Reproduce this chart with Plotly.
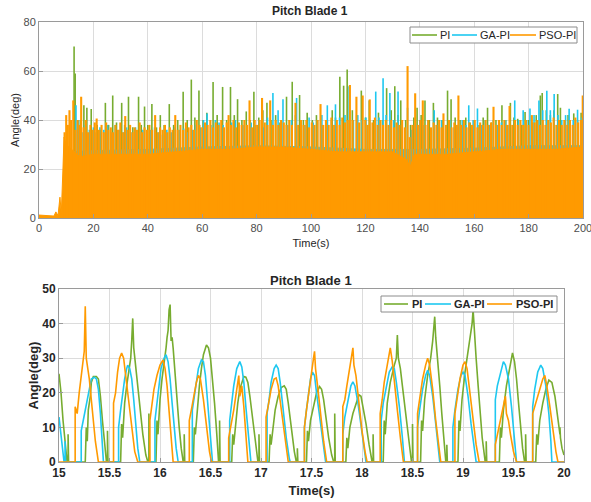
import plotly.graph_objects as go

# ---------------- colours ----------------
C_PI = "#77AC30"
C_GA = "#1EC8F0"
C_PSO = "#FF9A00"

# ---------------- top chart (0-200 s) ----------------
# spike peaks (time s, angle deg)
pi_spk_t = [12.9, 13.3, 15.2, 16.5, 17.6, 19.2, 21.4, 22.5, 24.4, 25.6, 27.1, 28.5, 30.4, 31.5, 32.9, 34.5, 36.6, 37.6,
            38.8, 40.0, 41.5, 43.2, 44.6, 46.0, 47.9, 49.5, 51.0, 53.0, 54.5, 56.0, 57.3, 58.8, 60.3, 61.7, 64.0, 65.5,
            67.5, 69.0, 70.4, 71.8, 73.0, 74.6, 76.2, 77.6, 79.0, 80.8, 82.3, 83.8, 85.3, 87.0, 88.6, 91.0, 93.1, 94.3,
            95.8, 97.2, 98.6, 100.5, 102.0, 104.0, 106.0, 107.8, 109.0, 110.6, 112.0, 113.3, 115.2, 116.8, 118.5, 120.0,
            121.4, 123.0, 124.8, 126.3, 127.8, 129.5, 130.8, 132.0, 133.0, 134.8, 136.6, 137.8, 139.0, 140.5, 141.9,
            143.5, 145.0, 146.5, 148.2, 150.2, 151.5, 153.0, 154.8, 156.9, 158.5, 160.0, 161.8, 163.3, 164.9, 166.4,
            168.0, 170.2, 171.6, 173.3, 174.6, 176.0, 177.4, 178.7, 180.0, 181.5, 182.8, 184.3, 185.0, 186.5, 188.0,
            189.3, 190.7, 191.7, 193.2, 194.5, 196.6, 198.0, 199.3]
pi_spk_v = [70, 59, 40, 46, 45, 44.5, 38, 36, 47, 38, 50, 39, 47, 38, 49.5, 37, 49.5, 38,
            45.5, 38, 46.5, 37, 42, 38, 46.5, 38, 40, 51.5, 40, 56.5, 41, 52, 40, 43, 55.5, 42,
            53.5, 40, 53.5, 42, 48.5, 40, 43.5, 40, 51.5, 41, 44, 47, 40, 42, 39, 49.5, 55.6, 42,
            50.2, 40, 43, 40, 42, 38, 40, 44, 41, 57.7, 54, 60.6, 44, 42, 52, 41,
            48, 40, 43, 40, 53, 44, 53.8, 42, 48, 40, 38, 41, 45, 42, 48,
            40, 47, 41, 40, 52, 48.5, 41, 40, 41, 39, 40, 38, 41, 45, 39,
            40, 46, 40, 47, 41, 40.5, 38, 43.3, 40, 39, 42, 50, 51, 44, 42,
            44, 50.6, 45, 40, 42, 42.7, 40, 43]

ga_spk_t = [13.6, 14.5, 15.8, 17.0, 18.5, 20.0, 21.0, 22.4, 23.8, 25.2, 26.6, 28.0, 29.5, 31.0, 32.2, 33.8, 35.5, 37.0,
            38.2, 39.8, 41.0, 42.5, 44.0, 45.4, 47.0, 48.6, 50.0, 51.6, 53.2, 54.6, 56.4, 57.8, 59.4, 60.5, 61.8, 63.2,
            64.8, 66.2, 67.7, 69.2, 70.8, 72.2, 73.6, 75.0, 76.6, 78.0, 79.5, 81.0, 82.5, 84.0, 86.0, 87.9, 89.7, 91.5,
            92.8, 94.7, 96.3, 97.8, 99.3, 100.8, 102.4, 104.0, 106.0, 107.5, 109.0, 110.5, 112.5, 114.0, 115.6, 117.2,
            118.7, 120.2, 121.6, 123.8, 125.0, 126.5, 127.6, 129.0, 130.4, 132.0, 133.4, 135.5, 137.0, 138.5, 140.0,
            141.5, 143.0, 145.3, 146.8, 148.0, 149.6, 151.0, 152.6, 154.0, 155.6, 157.0, 158.0, 159.6, 161.2, 162.6,
            164.0, 165.6, 167.0, 168.6, 170.0, 171.5, 172.8, 174.9, 176.3, 178.0, 179.3, 180.5, 182.0, 183.8, 185.2,
            186.7, 188.0, 189.4, 190.8, 192.2, 193.6, 194.9, 196.4, 198.0, 199.5]
ga_spk_v = [46, 40, 35, 38, 36, 37, 35, 37, 36, 38, 35, 38, 36, 35, 37, 35, 37, 35,
            36, 34, 36, 37, 35, 34, 36, 35, 37, 36, 36.5, 35, 36, 38, 37, 40, 42.7, 38,
            40, 39, 38, 37, 39, 40, 36, 38, 36, 39, 38, 40, 37, 41, 51, 44, 48.5, 38,
            40, 49, 40, 38, 41, 39, 40, 42, 46, 40, 46.4, 41, 42, 53.8, 40, 42,
            40, 41, 40, 51.6, 41, 57, 42, 51, 40, 51.6, 40, 45, 36, 38, 40,
            38, 40, 44, 38, 40, 38, 40, 37, 38, 40, 38, 46, 40, 44.7, 38,
            40, 38, 40, 38, 39, 40, 38, 48, 40, 44, 40, 44.7, 42, 48, 44,
            51.9, 44, 50.6, 42, 40, 42, 44.6, 40, 44.2, 41]

pso_spk_t = [9.4, 10.0, 10.6, 11.2, 11.8, 12.6, 13.4, 14.2, 15.0, 15.5, 16.4, 17.2, 18.0, 18.9, 19.7, 20.5, 21.2, 22.0,
             23.0, 23.8, 24.7, 25.5, 26.4, 27.2, 28.1, 29.0, 29.9, 30.8, 31.7, 32.6, 33.5, 34.4, 35.2, 36.0, 37.0, 37.9,
             38.8, 39.7, 40.6, 41.6, 42.7, 43.6, 44.5, 45.4, 46.3, 47.2, 48.1, 49.1, 50.1, 51.0, 52.0, 53.0, 54.0, 55.0,
             56.0, 57.0, 58.0, 59.0, 60.0, 61.0, 62.0, 63.0, 64.0, 65.0, 66.0, 67.0, 68.0, 69.0, 69.7, 70.6, 71.5, 72.5,
             73.5, 74.5, 75.5, 76.5, 77.4, 78.4, 79.3, 80.2, 81.1, 82.0, 83.0, 84.0, 85.0, 86.0, 87.0, 88.0, 89.0, 90.0,
             91.0, 92.0, 93.0, 94.3, 95.3, 96.3, 97.3, 98.3, 99.3, 100.3, 101.3, 102.4, 103.5, 104.5, 105.5, 106.5,
             107.5, 108.5, 109.5, 110.5, 111.5, 112.5, 113.5, 114.3, 115.3, 116.7, 117.7, 119.0, 120.0, 120.8, 121.6,
             122.6, 123.5, 124.5, 125.5, 126.5, 127.5, 128.5, 129.5, 130.5, 131.5, 132.5, 133.5, 134.5, 135.5, 136.3,
             137.3, 138.3, 139.3, 140.2, 141.1, 142.1, 143.1, 144.1, 145.1, 146.1, 147.1, 148.0, 148.7, 149.7, 150.7,
             151.7, 152.7, 153.5, 154.2, 155.2, 156.2, 157.2, 158.2, 159.2, 160.2, 161.2, 162.2, 163.2, 164.2, 165.2,
             166.2, 167.1, 168.1, 169.1, 170.1, 171.1, 172.1, 173.0, 174.0, 175.0, 176.0, 177.0, 178.0, 179.0, 180.0,
             181.2, 182.2, 183.2, 184.2, 185.2, 186.2, 187.2, 188.2, 189.2, 190.2, 191.2, 192.2, 193.2, 194.2, 195.2,
             196.2, 197.2, 198.2, 199.2, 199.9]
pso_spk_v = [35, 42, 38, 44, 40, 48, 36, 40, 38, 49.5, 37, 40, 35, 38, 36, 39, 40.6, 36,
             38, 35, 39, 36, 37, 35, 38, 36, 39, 35, 41.6, 36, 38, 35, 37, 36, 39, 35,
             37, 36, 38, 36, 42, 35, 37, 36, 38, 35, 37, 36, 42, 36, 38, 36, 39, 37,
             38, 36, 40, 38, 37, 39, 38, 40, 37, 39, 38, 40, 37, 39, 42, 38, 40, 37,
             39, 38, 40, 38, 48, 37, 40, 38, 40, 49, 39, 38, 48, 38, 40, 38, 40, 39,
             38, 40, 38, 47, 38, 40, 38, 40, 37, 39, 38, 40, 46.5, 38, 40, 38,
             41, 38, 40, 38, 41, 39, 40, 54.3, 40, 49.5, 39, 50, 40, 38, 48.4,
             39, 41, 38, 40, 38, 40, 38, 40, 37, 39, 38, 40, 37, 62, 33,
             38, 50.9, 38, 40, 48, 38, 40, 37, 39, 38, 40, 37, 42.7, 38, 40,
             37, 39, 38, 50, 38, 40, 37, 39, 38, 40, 37, 39, 38, 40, 38,
             39, 45.4, 38, 40, 38, 40, 38, 45.7, 38, 40, 38, 40, 38, 40, 38,
             42, 39, 40, 38, 40, 38, 40, 39, 41, 38, 40, 38, 40, 38, 40,
             38, 41, 39, 40, 50]

# solid lower envelopes (time s, angle deg)
pi_env_t = [9.5, 12, 20, 40, 60, 80, 100, 120, 140, 160, 180, 200]
pi_env_v = [0, 26, 26, 27, 28, 28, 28, 27, 26, 27, 28, 28]
ga_env_t = [9.5, 12, 20, 40, 60, 80, 100, 120, 140, 160, 180, 200]
ga_env_v = [0, 27, 27.5, 28, 29, 29.5, 29, 28, 28, 28.5, 29.5, 29.5]
pso_env_t = [0, 2, 4, 5.5, 6.2, 7, 7.7, 8.2, 8.8, 9.2, 10, 15, 20, 30, 40, 50, 60, 70, 80, 90, 100, 110, 120,
             130, 135, 136.5, 138, 145, 150, 160, 170, 180, 190, 200]
pso_env_v = [1.2, 1.0, 1.1, 0.8, 2.5, 1.0, 8.5, 2.0, 20, 33, 30, 25, 26, 26, 26, 27, 28, 28, 29, 29, 28, 27, 27,
             27, 24, 21, 26, 26, 26, 27, 28, 28, 28, 29]

# ---------------- bottom chart (15-20 s) ----------------
pi_t = [15.00, 15.02, 15.04, 15.06, 15.08, 15.09, 15.09, 15.095, 15.26, 15.27, 15.28, 15.29, 15.31, 15.32, 15.34,
        15.37, 15.39, 15.41, 15.43, 15.45, 15.47, 15.48, 15.48, 15.485, 15.61, 15.62, 15.63, 15.65, 15.67, 15.69,
        15.71, 15.72, 15.73, 15.74, 15.75, 15.76, 15.78, 15.80, 15.83, 15.86, 15.88, 15.89, 15.89, 15.895, 15.96,
        15.97, 15.98, 16.00, 16.02, 16.04, 16.06, 16.07, 16.08, 16.09, 16.10, 16.11, 16.12, 16.13, 16.15, 16.17,
        16.19, 16.21, 16.23, 16.24, 16.24, 16.245, 16.33, 16.34, 16.35, 16.37, 16.39, 16.41, 16.43, 16.46, 16.48,
        16.50, 16.52, 16.54, 16.56, 16.58, 16.59, 16.59, 16.595, 16.71, 16.72, 16.73, 16.75, 16.77, 16.79, 16.81,
        16.83, 16.85, 16.87, 16.89, 16.92, 16.95, 16.97, 16.98, 16.98, 16.985, 17.08, 17.09, 17.10, 17.12, 17.14,
        17.17, 17.20, 17.23, 17.25, 17.27, 17.29, 17.31, 17.33, 17.35, 17.36, 17.36, 17.365, 17.45, 17.46, 17.47,
        17.49, 17.52, 17.55, 17.58, 17.60, 17.62, 17.64, 17.67, 17.70, 17.72, 17.73, 17.73, 17.735, 17.84, 17.85,
        17.86, 17.88, 17.91, 17.94, 17.97, 17.99, 18.01, 18.04, 18.07, 18.10, 18.11, 18.11, 18.115, 18.21, 18.22,
        18.23, 18.25, 18.28, 18.30, 18.32, 18.34, 18.35, 18.36, 18.38, 18.40, 18.43, 18.46, 18.49, 18.50, 18.50,
        18.505, 18.58, 18.59, 18.60, 18.62, 18.65, 18.68, 18.70, 18.72, 18.73, 18.75, 18.77, 18.79, 18.81, 18.83,
        18.84, 18.84, 18.845, 18.95, 18.96, 18.97, 18.99, 19.02, 19.05, 19.07, 19.09, 19.10, 19.11, 19.13, 19.15,
        19.17, 19.19, 19.22, 19.23, 19.23, 19.235, 19.36, 19.37, 19.38, 19.40, 19.43, 19.46, 19.49, 19.51, 19.53,
        19.55, 19.57, 19.59, 19.61, 19.62, 19.62, 19.625, 19.72, 19.73, 19.74, 19.76, 19.79, 19.82, 19.85, 19.88,
        19.91, 19.94, 19.96, 19.96, 19.965, 19.98, 20.0]
pi_v = [25.5, 20, 12, 5, 0, 0, 8, 0, 0, 10, 6, 15, 19, 23, 24.7,
        24.7, 24, 19, 12, 5, 0, 0, 9, 0, 0, 11, 7, 17, 22, 26,
        30, 35, 41.5, 33, 30, 27, 22, 16, 8, 2, 0, 0, 14, 0, 0,
        12, 8, 18, 24, 28, 33, 36, 38, 44, 45.5, 35, 36, 33, 25, 17,
        10, 4, 0, 0, 8, 0, 0, 10, 8, 16, 22, 27, 31, 33.8, 33,
        30, 24, 17, 9, 0, 0, 12, 0, 0, 8, 5, 12, 17, 21, 23,
        24.7, 24.5, 23, 19, 12, 5, 0, 0, 8, 0, 0, 8, 5, 11, 15,
        19, 21.5, 22, 21, 17, 12, 7, 3, 0, 0, 4, 0, 0, 9, 6,
        12, 16, 20, 21.8, 21, 18, 13, 7, 2, 0, 0, 14, 0, 0, 7,
        4, 10, 14, 17, 19.4, 19, 16, 11, 5, 0, 0, 8, 0, 0, 12,
        8, 17, 23, 26, 28, 30, 36.7, 30, 27, 22, 15, 7, 0, 0, 11,
        0, 0, 12, 9, 18, 25, 30, 35, 42, 36, 30, 22, 14, 6, 0,
        0, 5, 0, 0, 12, 9, 18, 26, 32, 37, 40, 44, 38, 30, 22,
        14, 7, 0, 0, 6, 0, 0, 10, 7, 15, 22, 27, 31.5, 29, 24,
        17, 10, 4, 0, 0, 8, 0, 0, 8, 5, 12, 17, 21, 23.7, 23,
        19, 13, 8, 10, 7, 4, 2]

ga_t = [15.00, 15.02, 15.04, 15.05, 15.06, 15.06, 15.065, 15.22, 15.22, 15.24, 15.27, 15.30, 15.32, 15.35, 15.37,
        15.39, 15.41, 15.43, 15.44, 15.59, 15.59, 15.61, 15.63, 15.65, 15.67, 15.68, 15.70, 15.72, 15.74, 15.76,
        15.78, 15.80, 15.95, 15.95, 15.97, 15.99, 16.01, 16.04, 16.06, 16.08, 16.10, 16.12, 16.14, 16.16, 16.18,
        16.32, 16.32, 16.34, 16.36, 16.38, 16.41, 16.43, 16.45, 16.47, 16.49, 16.51, 16.52, 16.69, 16.69, 16.71,
        16.73, 16.76, 16.79, 16.81, 16.83, 16.85, 16.87, 16.89, 16.90, 17.06, 17.06, 17.08, 17.10, 17.13, 17.15,
        17.17, 17.19, 17.22, 17.25, 17.28, 17.29, 17.43, 17.43, 17.45, 17.47, 17.49, 17.51, 17.53, 17.55, 17.58,
        17.61, 17.64, 17.81, 17.81, 17.83, 17.86, 17.89, 17.91, 17.93, 17.96, 17.99, 18.02, 18.04, 18.19, 18.19,
        18.21, 18.24, 18.27, 18.30, 18.32, 18.34, 18.37, 18.40, 18.42, 18.55, 18.55, 18.57, 18.60, 18.63, 18.65,
        18.67, 18.70, 18.73, 18.76, 18.77, 18.90, 18.90, 18.92, 18.95, 18.98, 19.00, 19.02, 19.05, 19.08, 19.11,
        19.13, 19.32, 19.32, 19.34, 19.37, 19.40, 19.42, 19.45, 19.48, 19.51, 19.53, 19.69, 19.69, 19.71, 19.74,
        19.77, 19.79, 19.82, 19.85, 19.87, 19.88, 20.0]
ga_v = [13, 7, 2, 0, 0, 6, 0, 0, 9, 12, 17, 21, 24, 24.5, 24,
        21, 14, 6, 0, 0, 10, 15, 20, 24, 27, 28, 27, 24, 18, 11,
        4, 0, 0, 12, 17, 22, 27, 30, 31, 29, 24, 17, 10, 4, 0,
        0, 15, 19, 23, 27, 29.5, 29, 25, 18, 10, 3, 0, 0, 12, 17,
        22, 27, 29, 27.5, 23, 16, 9, 2, 0, 0, 14, 18, 23, 27, 28,
        27, 23, 15, 7, 1, 0, 0, 10, 15, 20, 24, 26, 25, 20, 13,
        6, 0, 0, 8, 13, 18, 22, 23.2, 22, 17, 11, 5, 0, 0, 12,
        17, 22, 26, 27.5, 27, 23, 16, 7, 0, 0, 10, 15, 21, 25, 26.5,
        25, 19, 11, 3, 0, 0, 10, 15, 21, 25, 26, 25, 19, 11, 4,
        0, 0, 18, 22, 26, 29, 28, 24, 16, 7, 0, 0, 16, 21, 26,
        28, 27, 22, 14, 6, 0, 0]

pso_t = [15.00, 15.16, 15.16, 15.18, 15.20, 15.22, 15.24, 15.25, 15.26, 15.27, 15.28, 15.30, 15.32, 15.34, 15.36,
         15.39, 15.54, 15.54, 15.56, 15.58, 15.60, 15.62, 15.64, 15.66, 15.69, 15.72, 15.75, 15.78, 15.90, 15.90,
         15.92, 15.94, 15.97, 16.00, 16.03, 16.05, 16.07, 16.09, 16.11, 16.13, 16.29, 16.29, 16.31, 16.34, 16.36,
         16.38, 16.40, 16.43, 16.46, 16.49, 16.51, 16.68, 16.68, 16.70, 16.73, 16.76, 16.78, 16.79, 16.81, 16.83,
         16.85, 16.87, 17.05, 17.05, 17.07, 17.10, 17.13, 17.15, 17.17, 17.20, 17.23, 17.26, 17.27, 17.43, 17.43,
         17.45, 17.48, 17.50, 17.52, 17.53, 17.54, 17.56, 17.59, 17.62, 17.65, 17.81, 17.81, 17.83, 17.85, 17.87,
         17.89, 17.91, 17.92, 17.94, 17.97, 18.00, 18.03, 18.05, 18.18, 18.18, 18.20, 18.22, 18.25, 18.27, 18.28,
         18.30, 18.32, 18.35, 18.38, 18.41, 18.55, 18.55, 18.57, 18.60, 18.63, 18.65, 18.67, 18.70, 18.73, 18.76,
         18.78, 18.92, 18.92, 18.94, 18.97, 19.00, 19.02, 19.04, 19.07, 19.10, 19.13, 19.16, 19.32, 19.32, 19.35,
         19.38, 19.40, 19.42, 19.43, 19.45, 19.47, 19.50, 19.53, 19.69, 19.69, 19.71, 19.74, 19.77, 19.79, 19.81,
         19.83, 19.86, 19.89, 19.92, 19.94, 20.0]
pso_v = [0, 0, 16, 14, 20, 25, 30, 32, 45, 30, 28, 24, 18, 12, 6,
         0, 0, 17, 20, 26, 30, 31.5, 30, 25, 18, 10, 3, 0, 0, 12,
         17, 21, 25, 28, 29.5, 27, 22, 14, 6, 0, 0, 12, 15, 20, 23,
         25, 24, 18, 10, 3, 0, 0, 7, 10, 15, 21, 25, 19, 22, 16,
         8, 0, 0, 13, 16, 21, 24, 24.3, 22, 15, 8, 2, 0, 0, 10,
         15, 22, 27, 30, 32, 27, 22, 14, 6, 0, 0, 16, 18, 22, 26,
         29, 33, 28, 25, 17, 9, 3, 0, 0, 14, 18, 23, 28, 31, 33,
         29, 24, 15, 7, 0, 0, 14, 18, 24, 28, 30, 28, 21, 12, 4,
         0, 0, 14, 18, 24, 28, 29, 27, 20, 12, 5, 0, 0, 5, 9,
         13, 16, 19, 14, 12, 8, 3, 0, 0, 14, 16, 19, 22, 24, 25,
         22, 16, 9, 3, 0, 0]

series_names = ["PI", "GA-PI", "PSO-PI"]
top_xticks = [0, 20, 40, 60, 80, 100, 120, 140, 160, 180, 200]
top_yticks = [0, 20, 40, 60, 80]
bot_xticks = [15, 15.5, 16, 16.5, 17, 17.5, 18, 18.5, 19, 19.5, 20]
bot_yticks = [0, 10, 20, 30, 40, 50]

series = [
    (series_names[0], C_PI, pi_spk_t, pi_spk_v, pi_env_t, pi_env_v, pi_t, pi_v, 1.6),
    (series_names[1], C_GA, ga_spk_t, ga_spk_v, ga_env_t, ga_env_v, ga_t, ga_v, 1.6),
    (series_names[2], C_PSO, pso_spk_t, pso_spk_v, pso_env_t, pso_env_v, pso_t, pso_v, 2.1),
]


def spikes(ts, vs):
    xs, ys = [], []
    for t, v in zip(ts, vs):
        xs += [t, t, None]
        ys += [0, v, None]
    return xs, ys


fig = go.Figure()
for name, col, st, sv, et, ev, bt, bv, lw in series:
    fig.add_trace(go.Scatter(x=et, y=ev, mode="lines", fill="tozeroy", fillcolor=col,
                             line=dict(color=col, width=1), showlegend=False, hoverinfo="skip",
                             xaxis="x", yaxis="y"))
    sx, sy = spikes(st, sv)
    fig.add_trace(go.Scatter(x=sx, y=sy, mode="lines", name=name, line=dict(color=col, width=lw),
                             showlegend=False, xaxis="x", yaxis="y"))
for name, col, st, sv, et, ev, bt, bv, lw in series:
    fig.add_trace(go.Scatter(x=bt, y=bv, mode="lines", name=name, line=dict(color=col, width=1.6),
                             showlegend=False, xaxis="x2", yaxis="y2"))

FONT = "Liberation Sans, Arial, sans-serif"
grid = "#dcdcdc"
frame = "#9a9a9a"
W, H = 591, 502

common = dict(showgrid=True, gridcolor=grid, gridwidth=1, showline=True, linecolor=frame, linewidth=1,
              mirror=True, ticks="inside", ticklen=4, tickcolor=frame, zeroline=False, automargin=False,
              ticklabeloverflow="allow")

# ---- legend boxes drawn as shapes + text (pixel layout of the reference legends) ----
shapes, annots = [], []


def px(x):
    return x / W


def py(y):
    return 1 - y / H


def legend_box(box, items, bold):
    x0, y0, x1, y1 = box
    shapes.append(dict(type="rect", xref="paper", yref="paper", x0=px(x0), x1=px(x1), y0=py(y1), y1=py(y0),
                       line=dict(color="#8c8c8c", width=1), fillcolor="white", layer="above"))
    ymid = (y0 + y1) / 2
    for (lx0, lx1, tx), name, col in zip(items, series_names, [C_PI, C_GA, C_PSO]):
        shapes.append(dict(type="line", xref="paper", yref="paper", x0=px(lx0), x1=px(lx1), y0=py(ymid),
                           y1=py(ymid), line=dict(color=col, width=1.6), layer="above"))
        annots.append(dict(text=f"<b>{name}</b>" if bold else name, x=px(tx), y=py(ymid), xref="paper",
                           yref="paper", xanchor="left", yanchor="middle", showarrow=False,
                           font=dict(size=11, color="#262626")))


legend_box((410, 27, 577, 43), [(412, 437, 437.5), (452, 477, 478), (510, 536, 537)], False)
legend_box((381, 296, 557, 312), [(384, 408, 410), (425, 451, 452), (487, 512, 514)], True)

annots += [
    dict(text="<b>Pitch Blade 1</b>", x=px(310), y=py(11), xref="paper", yref="paper", yanchor="middle",
         showarrow=False, font=dict(size=12, color="#262626")),
    dict(text="<b>Pitch Blade 1</b>", x=px(311), y=py(280), xref="paper", yref="paper", yanchor="middle",
         showarrow=False, font=dict(size=13, color="#262626")),
]

fig.update_layout(
    width=W, height=H, margin=dict(l=0, r=0, t=0, b=0, autoexpand=False),
    paper_bgcolor="white", plot_bgcolor="white", showlegend=False,
    font=dict(family=FONT, color="#262626"),
    xaxis=dict(domain=[px(39), px(583)], range=[0, 200], tickvals=top_xticks, anchor="y",
               tickfont=dict(size=11, color="#4d4d4d"),
               title=dict(text="Time(s)", font=dict(size=11, color="#262626"), standoff=6), **common),
    yaxis=dict(domain=[py(218), py(22)], range=[0, 80], tickvals=top_yticks, anchor="x",
               tickfont=dict(size=11, color="#4d4d4d"),
               title=dict(text="Angle(deg)", font=dict(size=11, color="#262626"), standoff=1), **common),
    xaxis2=dict(domain=[px(59), px(564)], range=[15, 20], tickvals=bot_xticks, anchor="y2",
                tickfont=dict(size=12, color="#262626", weight="bold"),
                title=dict(text="Time(s)", font=dict(size=13, color="#262626", weight="bold"), standoff=6),
                **common),
    yaxis2=dict(domain=[py(462), py(289)], range=[0, 50], tickvals=bot_yticks, anchor="x2",
                tickfont=dict(size=12, color="#262626", weight="bold"),
                title=dict(text="Angle(deg)", font=dict(size=13, color="#262626", weight="bold"), standoff=0),
                **common),
    shapes=shapes,
    annotations=annots,
)

fig.write_html("out.html")
